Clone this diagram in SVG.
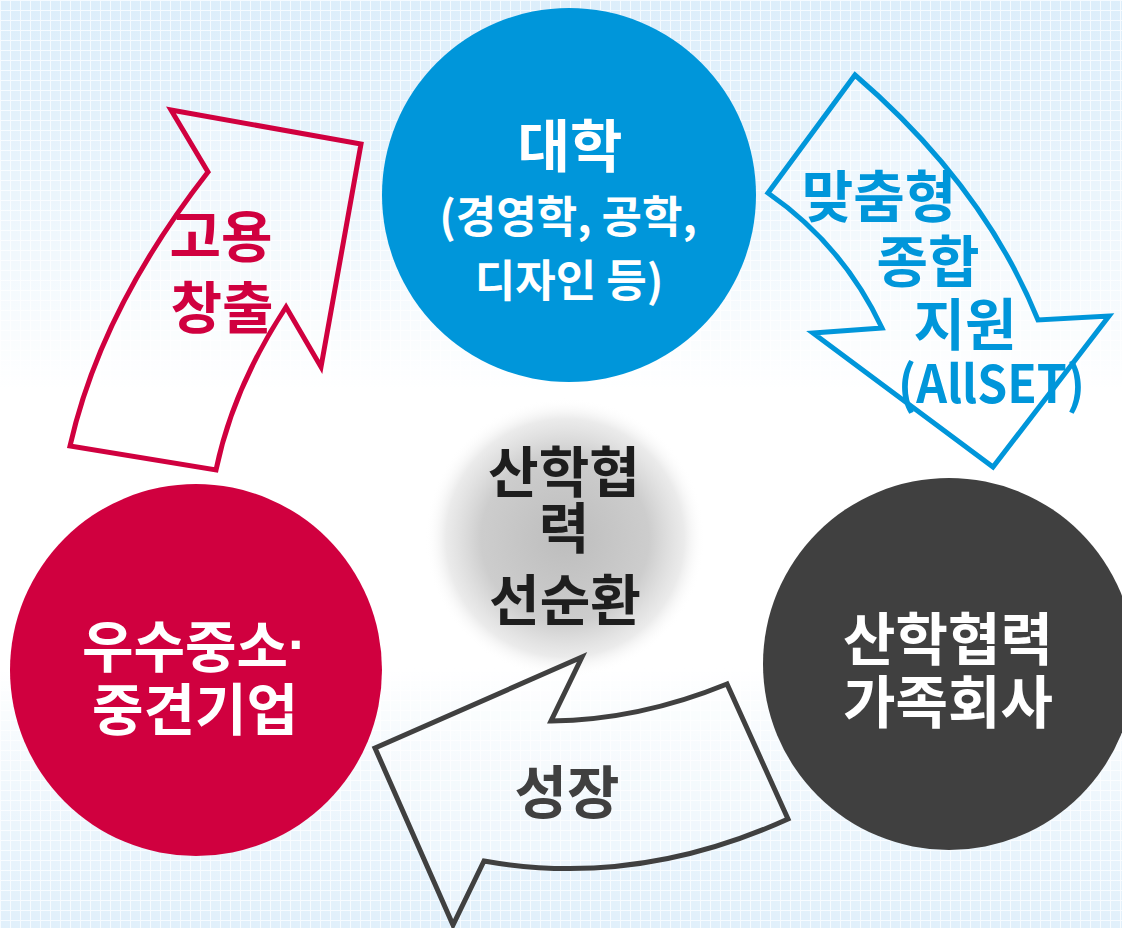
<svg xmlns="http://www.w3.org/2000/svg" width="1122" height="928" viewBox="0 0 1122 928">
<defs>
<pattern id="grid" width="10" height="10" patternUnits="userSpaceOnUse">
<rect width="10" height="10" fill="#d9ecfa"/>
<path d="M0,0.5 H10 M0.5,0 V10" stroke="#f4faff" stroke-width="1"/>
</pattern>
<linearGradient id="fade" x1="0" y1="0" x2="0" y2="1">
<stop offset="0" stop-color="#ffffff" stop-opacity="0.1"/>
<stop offset="0.12" stop-color="#ffffff" stop-opacity="0.25"/>
<stop offset="0.42" stop-color="#ffffff" stop-opacity="1"/>
<stop offset="0.72" stop-color="#ffffff" stop-opacity="1"/>
<stop offset="0.9" stop-color="#ffffff" stop-opacity="0.45"/>
<stop offset="1" stop-color="#ffffff" stop-opacity="0.2"/>
</linearGradient>
<radialGradient id="glow" cx="0.5" cy="0.5" r="0.5">
<stop offset="0" stop-color="#bdbdbd"/>
<stop offset="0.6" stop-color="#cdcdcd"/>
<stop offset="0.85" stop-color="#e6e6e6" stop-opacity="0.8"/>
<stop offset="1" stop-color="#ffffff" stop-opacity="0"/>
</radialGradient>
<style>
.t{font-family:"Noto Sans CJK KR","Noto Sans",sans-serif;font-weight:bold;text-anchor:middle}
.w{fill:#ffffff}
.arrow{fill:#ffffff;fill-opacity:0.25;stroke-width:5;stroke-linejoin:miter}
</style>
</defs>
<rect width="1122" height="928" fill="url(#grid)"/>
<rect width="1122" height="928" fill="url(#fade)"/>

<g id="center">
<circle cx="565" cy="538" r="140" fill="url(#glow)"/>
<text class="t" font-size="55" fill="#1e1e1e" x="564" y="492">산학협</text>
<text class="t" font-size="55" fill="#1e1e1e" x="564" y="548">력</text>
<text class="t" font-size="55" fill="#1e1e1e" x="565" y="620">선순환</text>
</g>

<g id="university">
<circle cx="569" cy="195" r="187" fill="#0096da"/>
<text class="t w" font-size="57" x="570" y="167">대학</text>
<text class="t w" font-size="44" x="568" y="233">(경영학, 공학,</text>
<text class="t w" font-size="44" x="569" y="297">디자인 등)</text>
</g>

<g id="sme">
<circle cx="196" cy="670" r="186" fill="#d0003f"/>
<text class="t w" font-size="56" x="82" y="667" style="text-anchor:start">우수중소<tspan font-family="Liberation Sans" dy="-4">·</tspan></text>
<text class="t w" font-size="56" x="195" y="730">중견기업</text>
</g>

<g id="family">
<circle cx="949" cy="664" r="186" fill="#404040"/>
<text class="t w" font-size="57" x="948" y="660">산학협력</text>
<text class="t w" font-size="57" x="948" y="723">가족회사</text>
</g>

<g id="connectors">
<g id="arrow-employment">
<path class="arrow" stroke="#d0003f" d="M171,110 L361,144 L321,367 L286,307 Q233,388 216,470 L70,446 Q101,309 208,172 Z"/>
<text class="t" font-size="56" fill="#d0003f" x="221" y="257">고용</text>
<text class="t" font-size="56" fill="#d0003f" x="222" y="328">창출</text>
</g>
<g id="arrow-support">
<path class="arrow" stroke="#0096da" d="M855,75 Q984,186 1038,320 L1109,316 L993,467 L813,333 L882,328 Q843,245 768,193 Z"/>
<text class="t" font-size="56" fill="#0096da" x="879" y="217">맞춤형</text>
<text class="t" font-size="56" fill="#0096da" x="928" y="282">종합</text>
<text class="t" font-size="56" fill="#0096da" x="965" y="345">지원</text>
<text class="t" font-size="52" fill="#0096da" x="898" y="403" style="text-anchor:start" textLength="187" lengthAdjust="spacingAndGlyphs">(AllSET)</text>
</g>
<g id="arrow-growth">
<path class="arrow" stroke="#404040" d="M582,657 L551,721 Q639,720 727,684 L788,819 Q636,888 484,861 L453,925 L375,748 Z"/>
<text class="t" font-size="57" fill="#404040" x="567" y="813">성장</text>
</g>
</g>
</svg>
